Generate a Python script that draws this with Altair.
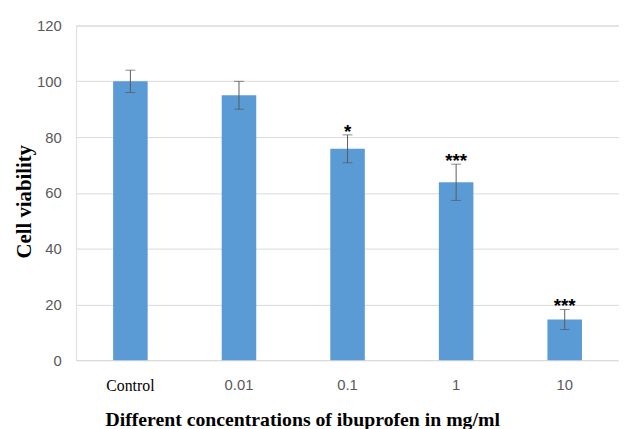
import altair as alt
import pandas as pd

categories = ["Control", "0.01", "0.1", "1", "10"]
viability = [100, 95, 75.8, 63.8, 14.6]
sd = [4, 5, 5, 6.5, 3.6]
signif = ["", "", "*", "***", "***"]

df = pd.DataFrame({"cat": categories, "v": viability, "sd": sd, "sig": signif})

base = alt.Chart(df).transform_calculate(
    lo="datum.v - datum.sd", hi="datum.v + datum.sd"
)

x = alt.X(
    "cat:N",
    sort=categories,
    scale=alt.Scale(paddingInner=0.68, paddingOuter=0.34),
    axis=alt.Axis(
        title="Different concentrations of ibuprofen in mg/ml",
        titleFont="Liberation Serif",
        titleFontWeight="bold",
        titleFontSize=20,
        titleColor="#000000",
        titleX=229,
        titleY=66,
        titleAlign="center",
        titleBaseline="alphabetic",
        labelAngle=0,
        labelFont={"condition": {"test": "datum.value == 'Control'", "value": "Liberation Serif"}, "value": "Liberation Sans"},
        labelColor={"condition": {"test": "datum.value == 'Control'", "value": "#000000"}, "value": "#595959"},
        labelFontSize={"condition": {"test": "datum.value == 'Control'", "value": 16}, "value": 15},
        labelPadding=18,
        domain=False,
        ticks=False,
        grid=False,
    ),
)

y_axis = alt.Axis(
    title="Cell viability",
    titleFont="Liberation Serif",
    titleFontWeight="bold",
    titleFontSize=21,
    titleColor="#000000",
    titleX=-52,
    titleY=178,
    titleAngle=270,
    titleAlign="center",
    titleBaseline="middle",
    values=[0, 20, 40, 60, 80, 100, 120],
    labelFont="Liberation Sans",
    labelFontSize=15,
    labelColor="#595959",
    labelPadding=15,
    domain=False,
    ticks=False,
    gridColor="#d9d9d9",
    gridWidth=1,
)

bars = base.mark_bar(color="#5B9BD5", size=35).encode(
    x=x,
    y=alt.Y("v:Q", scale=alt.Scale(domain=[0, 120]), axis=y_axis),
)

rule = base.mark_rule(color="#595959", strokeWidth=1).encode(
    x=alt.X("cat:N", sort=categories), y="lo:Q", y2="hi:Q"
)
cap_hi = base.mark_tick(color="#595959", thickness=1, size=10).encode(
    x=alt.X("cat:N", sort=categories), y="hi:Q"
)
cap_lo = base.mark_tick(color="#595959", thickness=1, size=10).encode(
    x=alt.X("cat:N", sort=categories), y="lo:Q"
)
stars = base.mark_text(
    font="Liberation Sans", fontSize=19, fontWeight="bold", color="#000000",
    baseline="alphabetic", dy=3
).encode(x=alt.X("cat:N", sort=categories), y="hi:Q", text="sig:N")

chart = (
    alt.layer(bars, rule, cap_hi, cap_lo, stars)
    .properties(
        width=550,
        height=339,
        autosize=alt.AutoSizeParams(type="none"),
        padding={"left": 69, "top": 15, "right": 0, "bottom": 72},
    )
    .configure_view(stroke=None)
    .configure(background="#ffffff")
)

chart.save("out.html", embed_options={"renderer": "svg", "actions": False})
